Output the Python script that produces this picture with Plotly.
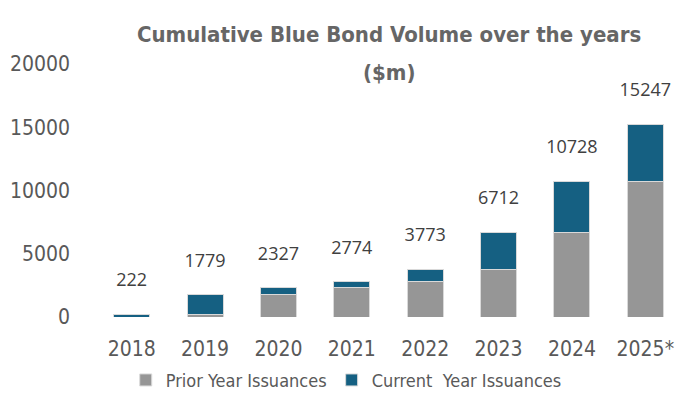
import plotly.graph_objects as go

years = ['2018', '2019', '2020', '2021', '2022', '2023', '2024', '2025*']
cumulative = [222, 1779, 2327, 2774, 3773, 6712, 10728, 15247]
prior_year = [0, 222, 1779, 2327, 2774, 3773, 6712, 10728]
current_year = [222, 1557, 548, 447, 999, 2939, 4016, 4519]

narrow = 'Liberation Sans Narrow, DejaVu Sans Condensed, sans-serif'

fig = go.Figure()
fig.add_trace(go.Bar(x=years, y=prior_year, name='Prior Year Issuances',
                     marker=dict(color='#969696', line=dict(color='#d9d9d9', width=1))))
fig.add_trace(go.Bar(x=years, y=current_year, name='Current  Year Issuances',
                     marker=dict(color='#156082', line=dict(color='#d9d9d9', width=1))))

# totals above the stacks (blank small line underneath lifts the label)
fig.add_trace(go.Scatter(x=years, y=cumulative, mode='text',
                         text=[f'{v}<br><span style="font-size:4px"> </span>' for v in cumulative],
                         textposition='top center', showlegend=False, hoverinfo='skip',
                         cliponaxis=False,
                         textfont=dict(size=18, color='#404040', family='Open Sans, sans-serif')))

# title in two lines
fig.add_annotation(x=0.501, y=1.115, xref='paper', yref='paper', showarrow=False, yanchor='middle',
                   text='<b>Cumulative Blue Bond Volume over the years</b>',
                   font=dict(size=22, color='#666666', family=narrow))
fig.add_annotation(x=0.501, y=0.968, xref='paper', yref='paper', showarrow=False, yanchor='middle',
                   text='<b>($m)</b>', font=dict(size=22, color='#666666', family=narrow))

# page body adds an 8px offset, so margins are shifted to compensate
fig.update_layout(
    width=698, height=403,
    margin=dict(l=87, r=24, t=56, b=91),
    barmode='stack', bargap=0.51,
    plot_bgcolor='white', paper_bgcolor='white',
    showlegend=True,
    legend=dict(orientation='h', x=0.428, xanchor='center', y=-0.25, yanchor='middle',
                font=dict(size=18, color='#595959', family=narrow), traceorder='normal'),
    xaxis=dict(type='category', categoryorder='array', categoryarray=years, automargin=False,
               showgrid=False, showline=False, ticks='outside', ticklen=13, tickcolor='rgba(0,0,0,0)',
               tickfont=dict(size=21, color='#595959', family=narrow)),
    yaxis=dict(range=[0, 20000], dtick=5000, tickformat='d', showgrid=False, zeroline=False,
               showline=False, ticks='', ticklabelstandoff=24, automargin=False,
               tickfont=dict(size=21, color='#595959', family=narrow)),
)

fig.write_html('out.html')
